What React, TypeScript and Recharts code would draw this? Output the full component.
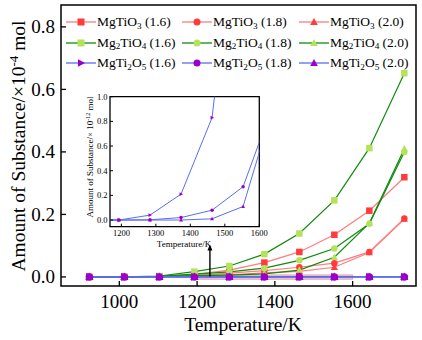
import React from 'react';
import { LineChart, Line, XAxis, YAxis, ReferenceArea, ReferenceLine, ReferenceDot } from 'recharts';

// Temperatures (K)
const temperatures = [923, 1013, 1103, 1193, 1283, 1373, 1463, 1553, 1643, 1733];

// Amount of substance, ×10^-4 mol
const mgTiO3_16 = [0, 0, 0.002, 0.008, 0.022, 0.046, 0.080, 0.135, 0.212, 0.319];
const mgTiO3_18 = [0, 0, 0.001, 0.004, 0.012, 0.020, 0.031, 0.044, 0.080, 0.187];
const mgTiO3_20 = [0, 0, 0.001, 0.003, 0.007, 0.013, 0.018, 0.031, 0.078, 0.185];
const mg2TiO4_16 = [0, 0, 0.003, 0.017, 0.035, 0.073, 0.139, 0.245, 0.412, 0.652];
const mg2TiO4_18 = [0, 0, 0.002, 0.009, 0.016, 0.028, 0.053, 0.091, 0.170, 0.400];
const mg2TiO4_20 = [0, 0, 0.001, 0.004, 0.006, 0.010, 0.022, 0.063, 0.172, 0.410];

// MgTi2O5, ×10^-12 mol (inset)
const mgTi2O5_16 = [0, 0, 0, 0, 0.04, 0.21, 0.83, 3.0, 9.5, 26];
const mgTi2O5_18 = [0, 0, 0, 0, 0.002, 0.02, 0.08, 0.27, 0.96, 3.2];
const mgTi2O5_20 = [0, 0, 0, 0, 0, 0, 0.01, 0.11, 0.95, 3.0];

const xTicks = [1000, 1200, 1400, 1600];
const yTicks = [0, 0.2, 0.4, 0.6, 0.8];
const insetXTicks = [1200, 1300, 1400, 1500, 1600];
const insetYTicks = [0, 0.2, 0.4, 0.6, 0.8, 1.0];

const FONT = '"Liberation Serif", "DejaVu Serif", serif';

const RED_LINE = '#ff7c7c';
const RED_MARK = '#ff3b3b';
const GREEN_LINE = '#0e8c0e';
const GREEN_MARK = '#b4e35a';
const BLUE_LINE = '#5a6cf2';
const PURPLE_MARK = '#9c00c8';

type Shape = 'square' | 'circle' | 'triangle' | 'triangleRight';

const series = [
  { key: 'a16', values: mgTiO3_16, base: 'MgTiO', sub1: '', mid: '', sub2: '3', ratio: '(1.6)', line: RED_LINE, mark: RED_MARK, shape: 'square' as Shape },
  { key: 'a18', values: mgTiO3_18, base: 'MgTiO', sub1: '', mid: '', sub2: '3', ratio: '(1.8)', line: RED_LINE, mark: RED_MARK, shape: 'circle' as Shape },
  { key: 'a20', values: mgTiO3_20, base: 'MgTiO', sub1: '', mid: '', sub2: '3', ratio: '(2.0)', line: RED_LINE, mark: RED_MARK, shape: 'triangle' as Shape },
  { key: 'b16', values: mg2TiO4_16, base: 'Mg', sub1: '2', mid: 'TiO', sub2: '4', ratio: '(1.6)', line: GREEN_LINE, mark: GREEN_MARK, shape: 'square' as Shape },
  { key: 'b18', values: mg2TiO4_18, base: 'Mg', sub1: '2', mid: 'TiO', sub2: '4', ratio: '(1.8)', line: GREEN_LINE, mark: GREEN_MARK, shape: 'circle' as Shape },
  { key: 'b20', values: mg2TiO4_20, base: 'Mg', sub1: '2', mid: 'TiO', sub2: '4', ratio: '(2.0)', line: GREEN_LINE, mark: GREEN_MARK, shape: 'triangle' as Shape },
  { key: 'c16', values: mgTi2O5_16.map((v) => v * 1e-8), base: 'MgTi', sub1: '2', mid: 'O', sub2: '5', ratio: '(1.6)', line: BLUE_LINE, mark: PURPLE_MARK, shape: 'triangleRight' as Shape },
  { key: 'c18', values: mgTi2O5_18.map((v) => v * 1e-8), base: 'MgTi', sub1: '2', mid: 'O', sub2: '5', ratio: '(1.8)', line: BLUE_LINE, mark: PURPLE_MARK, shape: 'circle' as Shape },
  { key: 'c20', values: mgTi2O5_20.map((v) => v * 1e-8), base: 'MgTi', sub1: '2', mid: 'O', sub2: '5', ratio: '(2.0)', line: BLUE_LINE, mark: PURPLE_MARK, shape: 'triangle' as Shape },
];

const mainData = temperatures.map((T, i) => {
  const row: Record<string, number> = { T };
  series.forEach((s) => {
    row[s.key] = s.values[i];
  });
  return row;
});

const insetSeries = [
  { key: 'c16', values: mgTi2O5_16, shape: 'triangleRight' as Shape },
  { key: 'c18', values: mgTi2O5_18, shape: 'circle' as Shape },
  { key: 'c20', values: mgTi2O5_20, shape: 'triangle' as Shape },
];

const insetData = temperatures.map((T, i) => {
  const row: Record<string, number> = { Tin: T };
  insetSeries.forEach((s) => {
    row['in_' + s.key] = s.values[i];
  });
  return row;
});

const INSET_Y_MIN = -0.054;
const INSET_Y_MAX = 1.0;

function markerEl(shape: Shape, cx: number, cy: number, size: number, fill: string, stroke?: string) {
  const r = size / 2;
  const sw = stroke ? 0.8 : 0;
  switch (shape) {
    case 'square':
      return <rect x={cx - r} y={cy - r} width={size} height={size} fill={fill} stroke={stroke} strokeWidth={sw} />;
    case 'circle':
      return <circle cx={cx} cy={cy} r={r} fill={fill} stroke={stroke} strokeWidth={sw} />;
    case 'triangle':
      return (
        <polygon
          points={`${cx},${cy - r * 1.15} ${cx - r * 1.1},${cy + r * 0.85} ${cx + r * 1.1},${cy + r * 0.85}`}
          fill={fill}
          stroke={stroke}
          strokeWidth={sw}
        />
      );
    case 'triangleRight':
    default:
      return (
        <polygon
          points={`${cx + r * 1.15},${cy} ${cx - r * 0.85},${cy - r * 1.1} ${cx - r * 0.85},${cy + r * 1.1}`}
          fill={fill}
          stroke={stroke}
          strokeWidth={sw}
        />
      );
  }
}

function makeDot(shape: Shape, size: number, fill: string, key: string, stroke?: string) {
  return (props: any) => {
    const { cx, cy, index } = props;
    if (cx == null || cy == null || isNaN(cx) || isNaN(cy)) return <g key={`${key}-${index}`} />;
    return <g key={`${key}-${index}`}>{markerEl(shape, cx, cy, size, fill, stroke)}</g>;
  };
}

const MainXTick = (props: any) => {
  const { x, y, payload } = props;
  return (
    <g>
      <line x1={x} x2={x} y1={y} y2={y - 5} stroke="#000" strokeWidth={1.3} />
      <text x={x} y={y + 22} textAnchor="middle" fontSize={19} fontFamily={FONT} fill="#000">
        {payload.value}
      </text>
    </g>
  );
};

const MainYTick = (props: any) => {
  const { x, y, payload } = props;
  return (
    <g>
      <line x1={x} x2={x + 5} y1={y} y2={y} stroke="#000" strokeWidth={1.3} />
      <text x={x - 6} y={y + 6.5} textAnchor="end" fontSize={19} fontFamily={FONT} fill="#000">
        {Number(payload.value).toFixed(1)}
      </text>
    </g>
  );
};

const InsetXTick = (props: any) => {
  const { x, y, payload } = props;
  return (
    <g>
      <line x1={x} x2={x} y1={y} y2={y - 3} stroke="#000" strokeWidth={1} />
      <text x={x} y={y + 9.5} textAnchor="middle" fontSize={8.5} fontFamily={FONT} fill="#000">
        {String(payload.value)}
      </text>
    </g>
  );
};

const InsetYTick = (props: any) => {
  const { x, y, payload } = props;
  return (
    <g>
      <line x1={x} x2={x + 3} y1={y} y2={y} stroke="#000" strokeWidth={1} />
      <text x={x - 2.5} y={y + 3} textAnchor="end" fontSize={8.5} fontFamily={FONT} fill="#000">
        {Number(payload.value).toFixed(1)}
      </text>
    </g>
  );
};

const ArrowHead = (props: any) => {
  const { cx, cy } = props;
  if (cx == null || cy == null) return <g />;
  return <polygon points={`${cx},${cy - 3} ${cx - 2.5},${cy + 3} ${cx + 2.5},${cy + 3}`} fill="#000" />;
};

function Formula({ s }: { s: (typeof series)[number] }) {
  const subStyle: React.CSSProperties = { fontSize: '0.68em', position: 'relative', top: '0.3em', lineHeight: 0 };
  return (
    <span>
      {s.base}
      {s.sub1 ? <span style={subStyle}>{s.sub1}</span> : null}
      {s.mid}
      <span style={subStyle}>{s.sub2}</span> {s.ratio}
    </span>
  );
}

function LegendBlock() {
  const colIcon = [66, 182, 299];
  const rowY = [22, 42.5, 63];
  return (
    <div style={{ position: 'absolute', left: 0, top: 0, width: 422, height: 80, pointerEvents: 'none' }}>
      {series.map((s, i) => {
        const col = i % 3;
        const row = Math.floor(i / 3);
        const left = colIcon[col];
        const cy = rowY[row];
        return (
          <div key={s.key} style={{ position: 'absolute', left, top: cy - 10, height: 20, display: 'flex', alignItems: 'center', whiteSpace: 'nowrap' }}>
            <svg width={30} height={20} style={{ display: 'block' }}>
              <line x1={0} x2={30} y1={10} y2={10} stroke={s.line} strokeWidth={1.3} />
              {markerEl(s.shape, 15, 10, 7, s.mark)}
            </svg>
            <span style={{ fontFamily: FONT, fontSize: 13.5, color: '#000', marginLeft: 1 }}>
              <Formula s={s} />
            </span>
          </div>
        );
      })}
    </div>
  );
}

export default function App() {
  return (
    <div style={{ position: 'absolute', left: 0, top: 0, width: 422, height: 340, background: '#fff', fontFamily: FONT }}>
      <LineChart id="mainChart" width={422} height={340} data={mainData} margin={{ top: 5, right: 6, left: 0, bottom: 0 }}>
        <XAxis
          dataKey="T"
          type="number"
          domain={[850, 1763]}
          ticks={xTicks}
          interval={0}
          allowDataOverflow
          axisLine={false}
          tickLine={false}
          tickSize={0}
          tickMargin={0}
          height={54}
          tick={MainXTick}
          label={{
            content: () => (
              <text x={243} y={331} textAnchor="middle" fontSize={19.5} fontFamily={FONT} fill="#000">
                Temperature/K
              </text>
            ),
          }}
        />
        <YAxis
          type="number"
          domain={[-0.029, 0.87]}
          ticks={yTicks}
          interval={0}
          allowDataOverflow
          axisLine={false}
          tickLine={false}
          tickSize={0}
          tickMargin={0}
          width={61}
          tick={MainYTick}
          label={{
            content: () => (
              <text transform="translate(25,146) rotate(-90)" textAnchor="middle" fontSize={19.5} fontFamily={FONT} fill="#000">
                Amount of Substance/×10
                <tspan dy={-7} fontSize={13}>-4</tspan>
                <tspan dy={7}> mol</tspan>
              </text>
            ),
          }}
        />
        <ReferenceArea x1={850} x2={1763} y1={-0.029} y2={0.87} fill="none" stroke="#000" strokeWidth={1.5} fillOpacity={0} />
        {series.map((s) => (
          <Line
            key={s.key}
            dataKey={s.key}
            stroke={s.line}
            strokeWidth={1.2}
            isAnimationActive={false}
            dot={makeDot(s.shape, s.key.startsWith('c') ? 7.5 : 6.5, s.mark, s.key)}
            activeDot={false}
          />
        ))}
        <ReferenceArea x1={1200} x2={1600} y1={-0.0074} y2={0.0064} fill="#c9a9c4" fillOpacity={0.55} stroke="#f08a8a" strokeWidth={0.8} />
        <ReferenceLine segment={[{ x: 1233, y: 0.001 }, { x: 1233, y: 0.092 }]} stroke="#000" strokeWidth={1.4} />
        <ReferenceDot x={1233} y={0.094} r={3} shape={ArrowHead} />
      </LineChart>

      <LegendBlock />

      <div style={{ position: 'absolute', left: 80, top: 90 }}>
        <LineChart id="insetChart" width={197} height={162} data={insetData} margin={{ top: 6.7, right: 17.7, left: 0, bottom: 0 }}>
          <XAxis
            xAxisId="ix"
            dataKey="Tin"
            type="number"
            domain={[1167, 1600]}
            ticks={insetXTicks}
            interval={0}
            minTickGap={-100}
            allowDataOverflow
            axisLine={false}
            tickLine={false}
            tickSize={0}
            tickMargin={0}
            height={25.3}
            tick={<InsetXTick />}
            label={{
              content: () => (
                <text x={104} y={157} textAnchor="middle" fontSize={9} fontFamily={FONT} fill="#000">
                  Temperature/K
                </text>
              ),
            }}
          />
          <YAxis
            yAxisId="iy"
            type="number"
            domain={[INSET_Y_MIN, INSET_Y_MAX]}
            ticks={insetYTicks}
            interval={0}
            allowDataOverflow
            axisLine={false}
            tickLine={false}
            tickSize={0}
            tickMargin={0}
            width={30}
            tick={InsetYTick}
            label={{
              content: () => (
                <text transform="translate(13,67) rotate(-90)" textAnchor="middle" fontSize={9} fontFamily={FONT} fill="#000">
                  Amount of Substance/× 10
                  <tspan dy={-3.5} fontSize={6}>-12</tspan>
                  <tspan dy={3.5}> mol</tspan>
                </text>
              ),
            }}
          />
          <ReferenceArea xAxisId="ix" yAxisId="iy" x1={1167} x2={1600} y1={INSET_Y_MIN} y2={INSET_Y_MAX} fill="#fff" fillOpacity={1} stroke="#000" strokeWidth={1.3} />
          {insetSeries.map((s) => (
            <Line
              key={s.key}
              xAxisId="ix"
              yAxisId="iy"
              dataKey={'in_' + s.key}
              stroke={BLUE_LINE}
              strokeWidth={1}
              isAnimationActive={false}
              dot={makeDot(s.shape, 3.5, PURPLE_MARK, 'in' + s.key)}
              activeDot={false}
            />
          ))}
        </LineChart>
      </div>
    </div>
  );
}
